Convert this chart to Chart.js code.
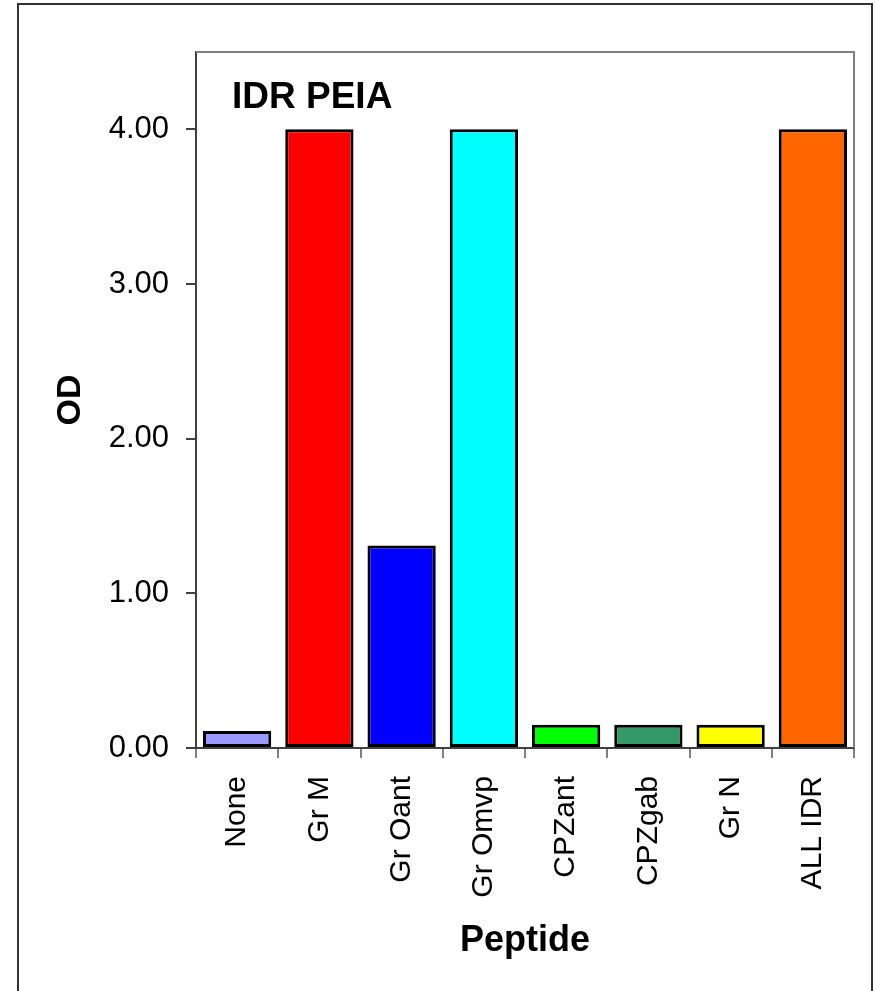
<!DOCTYPE html>
<html>
<head>
<meta charset="utf-8">
<script src="https://cdn.jsdelivr.net/npm/chart.js@4/dist/chart.umd.min.js"></script>
<style>
  html, body { margin: 0; padding: 0; background: #fff; overflow: hidden; }
  #frame {
    position: absolute; left: 17px; top: 3px;
    width: 852px; height: 1100px;
    border: 2px solid #333;
  }
  #odChart { position: absolute; left: 0; top: 0; }
</style>
</head>
<body>
<div id="frame"></div>
<canvas id="odChart" width="875" height="991"></canvas>
<script>
// peptides and their OD readings
const peptides = ['None', 'Gr M', 'Gr Oant', 'Gr Omvp', 'CPZant', 'CPZgab', 'Gr N', 'ALL IDR'];
const odValues = [0.11, 4.00, 1.31, 4.00, 0.15, 0.15, 0.15, 4.00];
const barColors = ['#9999FF', '#FF0000', '#0000FF', '#00FFFF', '#00FF00', '#339966', '#FFFF00', '#FF6600'];
const yTicks = [0, 1, 2, 3, 4];

Chart.defaults.font.family = '"Liberation Sans", Arial, sans-serif';
Chart.defaults.color = '#000';

// gray box on top/right of the plot plus the panel label
const plotDecor = {
    id: 'plotDecor',
    afterDraw(chart) {
        const { ctx, chartArea: a } = chart;
        ctx.save();
        ctx.strokeStyle = '#808080';
        ctx.lineWidth = 2;
        ctx.beginPath();
        ctx.moveTo(a.left, a.top);
        ctx.lineTo(a.right, a.top);
        ctx.lineTo(a.right, a.bottom);
        ctx.stroke();
        ctx.fillStyle = '#000';
        ctx.font = 'bold 37px "Liberation Sans", Arial, sans-serif';
        ctx.textBaseline = 'alphabetic';
        ctx.fillText('IDR PEIA', a.left + 36, a.top + 56);
        ctx.restore();
    }
};

new Chart(document.getElementById('odChart'), {
    type: 'bar',
    data: {
        labels: peptides,
        datasets: [{
            data: odValues,
            backgroundColor: barColors,
            borderColor: '#000',
            borderWidth: 3,
            borderSkipped: false,
            barPercentage: 1,
            categoryPercentage: 0.83
        }]
    },
    options: {
        responsive: false,
        animation: false,
        layout: { padding: { left: 0, top: 52, right: 21, bottom: 0 } },
        plugins: {
            legend: { display: false },
            tooltip: { enabled: false }
        },
        scales: {
            x: {
                afterFit: s => { s.height = 243; },
                grid: {
                    offset: true,
                    drawOnChartArea: false,
                    tickLength: 10,
                    color: '#808080',
                    lineWidth: 2
                },
                border: { color: '#404040', width: 2 },
                ticks: {
                    minRotation: 90,
                    maxRotation: 90,
                    padding: 18,
                    font: { size: 30 }
                },
                title: {
                    display: true,
                    text: 'Peptide',
                    font: { size: 36, weight: 'bold' },
                    padding: { top: 0, bottom: 28 }
                }
            },
            y: {
                min: 0,
                max: 4.5,
                afterFit: s => { s.width = 196; },
                afterBuildTicks: s => { s.ticks = yTicks.map(v => ({ value: v })); },
                grid: {
                    drawOnChartArea: false,
                    tickLength: 10,
                    color: '#404040',
                    lineWidth: 2
                },
                border: { color: '#404040', width: 2 },
                ticks: {
                    padding: 17,
                    font: { size: 31 },
                    callback: v => v.toFixed(2)
                },
                title: {
                    display: true,
                    text: 'OD',
                    font: { size: 34, weight: 'bold' },
                    padding: { top: 50, bottom: 0 }
                }
            }
        }
    },
    plugins: [plotDecor]
});
</script>
</body>
</html>
